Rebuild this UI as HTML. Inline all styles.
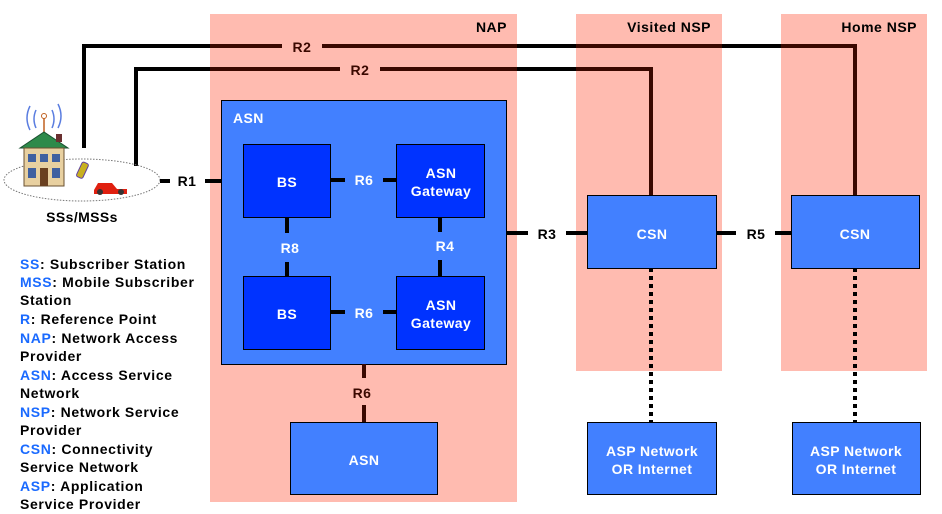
<!DOCTYPE html>
<html><head><meta charset="utf-8"><style>
html,body{margin:0;padding:0;background:#fff;}
svg{display:block;font-family:"Liberation Sans",Arial,sans-serif;font-weight:bold;letter-spacing:0.4px;}
</style></head><body>
<svg width="942" height="514" viewBox="0 0 942 514" xmlns="http://www.w3.org/2000/svg">
<rect x="210" y="14" width="307" height="488" fill="#ffbbb0"/>
<rect x="576" y="14" width="146" height="357" fill="#ffbbb0"/>
<rect x="781" y="14" width="146" height="357" fill="#ffbbb0"/>
<g font-size="14" fill="#000" text-anchor="end" letter-spacing="0.5">
<text x="507" y="32">NAP</text>
<text x="711" y="32">Visited NSP</text>
<text x="917" y="32">Home NSP</text>
</g>
<g fill="none" stroke-width="4">
<polyline points="84,148 84,46 210,46" stroke="#000"/>
<polyline points="210,46 282,46" stroke="#3a0800"/>
<polyline points="322,46 855,46 855,196" stroke="#3a0800"/>
<polyline points="136,166 136,69 210,69" stroke="#000"/>
<polyline points="210,69 340,69" stroke="#3a0800"/>
<polyline points="380,69 651,69 651,196" stroke="#3a0800"/>
<line x1="517" y1="46" x2="576" y2="46" stroke="#000"/>
<line x1="722" y1="46" x2="781" y2="46" stroke="#000"/>
<line x1="517" y1="69" x2="576" y2="69" stroke="#000"/>
</g>
<g font-size="14" fill="#3a0800" text-anchor="middle" letter-spacing="0.5">
<text x="302" y="52">R2</text>
<text x="360" y="75">R2</text>
</g>
<ellipse cx="82" cy="180" rx="78" ry="21" fill="none" stroke="#777" stroke-dasharray="1.5,1.5"/>
<g>
<path d="M30,130 q-6,-12 0,-24 M36,128 q-4,-9 0,-18 M58,128 q6,-12 0,-24 M52,128 q4,-9 0,-18" stroke="#5a7de0" fill="none" stroke-width="1.5"/>
<line x1="44" y1="118" x2="44" y2="134" stroke="#c06020" stroke-width="1.5"/>
<circle cx="44" cy="116" r="2.5" fill="none" stroke="#c06020"/>
<polygon points="20,148 44,132 68,148" fill="#2e8a4a" stroke="#1a5030"/>
<rect x="56" y="134" width="6" height="8" fill="#6a3030"/>
<rect x="24" y="148" width="40" height="38" fill="#e8d0a0" stroke="#6a5030"/>
<rect x="28" y="154" width="8" height="8" fill="#4060a0"/><rect x="40" y="154" width="8" height="8" fill="#4060a0"/><rect x="52" y="154" width="8" height="8" fill="#4060a0"/>
<rect x="28" y="168" width="8" height="10" fill="#4060a0"/><rect x="40" y="168" width="8" height="18" fill="#6a4020"/><rect x="52" y="168" width="8" height="10" fill="#4060a0"/>
<rect x="79" y="162" width="7" height="16" rx="2" fill="#c8b020" stroke="#6040a0" transform="rotate(25 82 170)"/>
<path d="M94,190 l4,-7 h14 l5,6 h10 v5 h-33z" fill="#e02010"/>
<circle cx="100" cy="192" r="3" fill="#333"/><circle cx="121" cy="192" r="3" fill="#333"/>
</g>
<text x="82" y="222" font-size="14" text-anchor="middle" fill="#000">SSs/MSSs</text>
<g stroke="#000" stroke-width="4">
<line x1="160" y1="181" x2="170" y2="181"/>
<line x1="205" y1="181" x2="243" y2="181"/>
</g>
<text x="187" y="186" font-size="14" text-anchor="middle">R1</text>
<rect x="221.5" y="100.5" width="285" height="264" fill="#4280ff" stroke="#000"/>
<text x="233" y="123" font-size="14" fill="#fff">ASN</text>
<g stroke="#000" stroke-width="4">
<line x1="330" y1="180" x2="345" y2="180"/><line x1="383" y1="180" x2="396" y2="180"/>
<line x1="330" y1="312" x2="345" y2="312"/><line x1="383" y1="312" x2="396" y2="312"/>
<line x1="287" y1="217" x2="287" y2="233"/><line x1="287" y1="262" x2="287" y2="276"/>
<line x1="440" y1="217" x2="440" y2="232"/><line x1="440" y1="260" x2="440" y2="276"/>
<line x1="506" y1="233" x2="528" y2="233"/><line x1="566" y1="233" x2="587" y2="233"/>
<line x1="716" y1="233" x2="736" y2="233"/><line x1="775" y1="233" x2="791" y2="233"/>
</g>
<g font-size="14" fill="#fff" text-anchor="middle">
<text x="364" y="185">R6</text><text x="364" y="318">R6</text>
<text x="290" y="253">R8</text><text x="445" y="251">R4</text>
</g>
<g font-size="14" fill="#000" text-anchor="middle">
<text x="547" y="239">R3</text><text x="756" y="239">R5</text>
</g>
<g fill="#0033ff" stroke="#000">
<rect x="243.5" y="144.5" width="87" height="73"/>
<rect x="396.5" y="144.5" width="88" height="73"/>
<rect x="243.5" y="276.5" width="87" height="73"/>
<rect x="396.5" y="276.5" width="88" height="73"/>
</g>
<g font-size="14" fill="#fff" text-anchor="middle">
<text x="287" y="187">BS</text><text x="287" y="319">BS</text>
<text x="441" y="178">ASN</text><text x="441" y="196">Gateway</text>
<text x="441" y="310">ASN</text><text x="441" y="328">Gateway</text>
</g>
<g stroke="#3a0800" stroke-width="4">
<line x1="364" y1="364" x2="364" y2="378"/><line x1="364" y1="405" x2="364" y2="422"/>
</g>
<text x="362" y="398" font-size="14" fill="#3a0800" text-anchor="middle">R6</text>
<g stroke="#000" stroke-width="4" stroke-dasharray="4,4">
<line x1="651" y1="268" x2="651" y2="422"/>
<line x1="855" y1="268" x2="855" y2="422"/>
</g>
<g fill="#4280ff" stroke="#000">
<rect x="290.5" y="422.5" width="147" height="72"/>
<rect x="587.5" y="195.5" width="129" height="73"/>
<rect x="791.5" y="195.5" width="128" height="73"/>
<rect x="587.5" y="422.5" width="129" height="72"/>
<rect x="792.5" y="422.5" width="128" height="72"/>
</g>
<g font-size="14" fill="#fff" text-anchor="middle">
<text x="364" y="465">ASN</text>
<text x="652" y="239">CSN</text><text x="855" y="239">CSN</text>
<text x="652" y="456">ASP Network</text><text x="652" y="474">OR Internet</text>
<text x="856" y="456">ASP Network</text><text x="856" y="474">OR Internet</text>
</g>
<g font-size="14" fill="#000" letter-spacing="0.65">
<text x="20" y="269"><tspan fill="#1a6aff">SS</tspan>: Subscriber Station</text>
<text x="20" y="287"><tspan fill="#1a6aff">MSS</tspan>: Mobile Subscriber</text>
<text x="20" y="305">Station</text>
<text x="20" y="324"><tspan fill="#1a6aff">R</tspan>: Reference Point</text>
<text x="20" y="343"><tspan fill="#1a6aff">NAP</tspan>: Network Access</text>
<text x="20" y="361">Provider</text>
<text x="20" y="380"><tspan fill="#1a6aff">ASN</tspan>: Access Service</text>
<text x="20" y="398">Network</text>
<text x="20" y="417"><tspan fill="#1a6aff">NSP</tspan>: Network Service</text>
<text x="20" y="435">Provider</text>
<text x="20" y="454"><tspan fill="#1a6aff">CSN</tspan>: Connectivity</text>
<text x="20" y="472">Service Network</text>
<text x="20" y="491"><tspan fill="#1a6aff">ASP</tspan>: Application</text>
<text x="20" y="509">Service Provider</text>
</g>
</svg>
</body></html>
